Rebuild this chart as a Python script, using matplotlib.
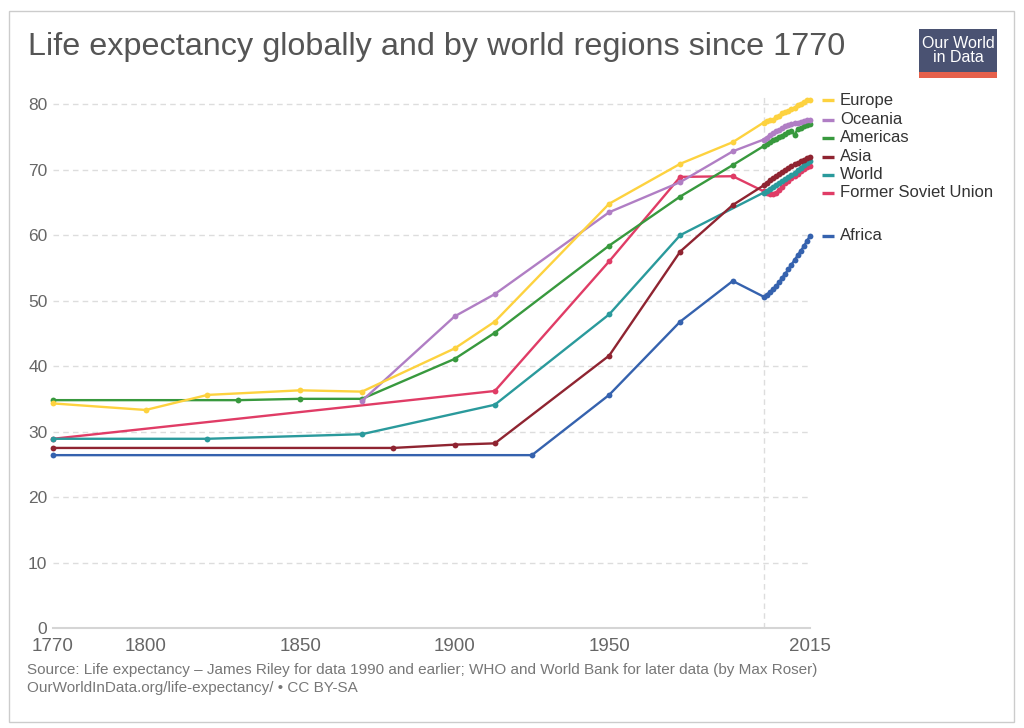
import matplotlib
matplotlib.use('Agg')
import matplotlib.pyplot as plt
from matplotlib.patches import Rectangle

plt.rcParams['font.family'] = ['Liberation Sans', 'DejaVu Sans']

recent_years = list(range(2000, 2016))

europe_years = [1770, 1800, 1820, 1850, 1870, 1900, 1913, 1950, 1973, 1990] + recent_years
europe_values = [34.3, 33.3, 35.6, 36.3, 36.1, 42.7, 46.8, 64.8, 70.9, 74.2,
                 77.2, 77.5, 77.6, 77.6, 78.0, 78.2, 78.6, 78.8, 79.0, 79.2, 79.4, 79.9, 80.1, 80.3, 80.6, 80.6]

oceania_years = [1870, 1900, 1913, 1950, 1973, 1990] + recent_years
oceania_values = [34.7, 47.6, 51.0, 63.5, 68.1, 72.8,
                  74.6, 74.9, 75.3, 75.6, 75.9, 76.1, 76.3, 76.6, 76.8, 76.9, 77.1, 77.2, 77.3, 77.4, 77.6, 77.6]

americas_years = [1770, 1830, 1850, 1870, 1900, 1913, 1950, 1973, 1990] + recent_years
americas_values = [34.8, 34.8, 35.0, 35.0, 41.1, 45.1, 58.4, 65.9, 70.7,
                   73.6, 73.9, 74.2, 74.5, 74.7, 75.0, 75.2, 75.5, 75.7, 75.9, 75.3, 76.2, 76.4, 76.6, 76.8, 76.9]

asia_years = [1770, 1880, 1900, 1913, 1950, 1973, 1990] + recent_years
asia_values = [27.5, 27.5, 28.0, 28.2, 41.6, 57.5, 64.6,
               67.6, 68.0, 68.4, 68.7, 69.0, 69.3, 69.6, 69.9, 70.2, 70.5, 70.8, 71.0, 71.3, 71.5, 71.8, 72.0]

world_years = [1770, 1820, 1870, 1913, 1950, 1973] + recent_years
world_values = [28.9, 28.9, 29.6, 34.1, 47.9, 60.0,
                66.5, 66.8, 67.1, 67.4, 67.7, 68.0, 68.3, 68.6, 68.9, 69.2, 69.5, 69.9, 70.3, 70.7, 71.0, 71.4]

fsu_years = [1770, 1913, 1950, 1973, 1990] + recent_years
fsu_values = [28.9, 36.2, 56.0, 68.9, 69.0,
              66.7, 66.4, 66.3, 66.3, 66.5, 66.9, 67.4, 67.9, 68.3, 68.7, 69.0, 69.4, 69.8, 70.1, 70.4, 70.6]

africa_years = [1770, 1925, 1950, 1973, 1990] + recent_years
africa_values = [26.4, 26.4, 35.6, 46.8, 53.0,
                 50.6, 50.9, 51.3, 51.7, 52.2, 52.8, 53.5, 54.1, 54.8, 55.5, 56.2, 56.9, 57.6, 58.3, 59.1, 59.9]

series = [
    ('Europe', europe_years, europe_values, '#fdd23f'),
    ('Oceania', oceania_years, oceania_values, '#b07ec4'),
    ('Americas', americas_years, americas_values, '#38993e'),
    ('Asia', asia_years, asia_values, '#8f2431'),
    ('World', world_years, world_values, '#2a9a9c'),
    ('Former Soviet Union', fsu_years, fsu_values, '#e03c66'),
    ('Africa', africa_years, africa_values, '#3562ae'),
]

xtick_years = [1770, 1800, 1850, 1900, 1950, 2015]
grid_years = [1800, 1850, 1900, 1950, 2000]
yticks = [0, 10, 20, 30, 40, 50, 60, 70, 80]

W, H = 1024, 728
fig = plt.figure(figsize=(W / 100, H / 100), dpi=100)
ax_left, ax_right, ax_top, ax_bottom = 53, 810, 97, 628
ax = fig.add_axes([ax_left / W, 1 - ax_bottom / H, (ax_right - ax_left) / W, (ax_bottom - ax_top) / H])

for name, xs, ys, color in series[::-1]:
    ax.plot(xs, ys, '-o', color=color, lw=1.7, ms=4.2, mew=0, clip_on=False, zorder=3)

ax.set_xlim(1770, 2015)
ax.set_ylim(0, 81.1)
ax.set_xticks(xtick_years)
ax.set_xticks(grid_years, minor=True)
ax.set_yticks(yticks)
ax.tick_params(axis='both', which='both', length=0, colors='#666666')
ax.tick_params(axis='y', labelsize=12.5, pad=4)
ax.tick_params(axis='x', labelsize=13.5, pad=7)
ax.grid(axis='x', which='minor', color='#dddddd', ls=(0, (4, 3)), lw=1)
ax.grid(axis='y', which='major', color='#dddddd', ls=(0, (4, 3)), lw=1)
ax.grid(axis='x', which='major', visible=False)
for s in ['top', 'right', 'left']:
    ax.spines[s].set_visible(False)
ax.spines['bottom'].set_color('#d5d5d5')
ax.spines['bottom'].set_linewidth(1.5)
ax.set_axisbelow(True)

# end labels, pushed apart so they do not overlap
order = sorted(series, key=lambda s: -s[2][-1])
gap = 2.75
prev = None
trans = ax.get_yaxis_transform()
width_px = ax_right - ax_left
for name, xs, ys, color in order:
    y = ys[-1] if prev is None else min(ys[-1], prev - gap)
    prev = y
    ax.plot([(822 - ax_left) / width_px, (834 - ax_left) / width_px], [y, y], color=color,
            lw=2.4, transform=trans, clip_on=False, solid_capstyle='butt')
    ax.text((840 - ax_left) / width_px, y, name, transform=trans, va='center', ha='left',
            fontsize=12, color='#333333')

fig.text(28 / W, 1 - 55 / H, 'Life expectancy globally and by world regions since 1770',
         fontsize=23.3, color='#555555', va='baseline', ha='left')

fig.text(27 / W, 1 - 674 / H,
         'Source: Life expectancy \u2013 James Riley for data 1990 and earlier; WHO and World Bank for later data (by Max Roser)',
         fontsize=11, color='#777777', va='baseline', ha='left')
fig.text(27 / W, 1 - 692 / H, 'OurWorldInData.org/life-expectancy/ \u2022 CC BY-SA',
         fontsize=11, color='#777777', va='baseline', ha='left')

# logo
fig.patches.append(Rectangle((919 / W, 1 - 72 / H), 78 / W, 43 / H, transform=fig.transFigure,
                             facecolor='#4a5272', edgecolor='none'))
fig.patches.append(Rectangle((919 / W, 1 - 78 / H), 78 / W, 6 / H, transform=fig.transFigure,
                             facecolor='#e6604b', edgecolor='none'))
fig.text(958 / W, 1 - 50.5 / H, 'Our World\nin Data', fontsize=11.5, color='white',
         ha='center', va='center', linespacing=0.95)

# outer frame
fig.patches.append(Rectangle((9 / W, 1 - 722 / H), 1005 / W, 711 / H, transform=fig.transFigure,
                             facecolor='none', edgecolor='#cccccc', lw=1))

fig.savefig('out.png', dpi=100)
